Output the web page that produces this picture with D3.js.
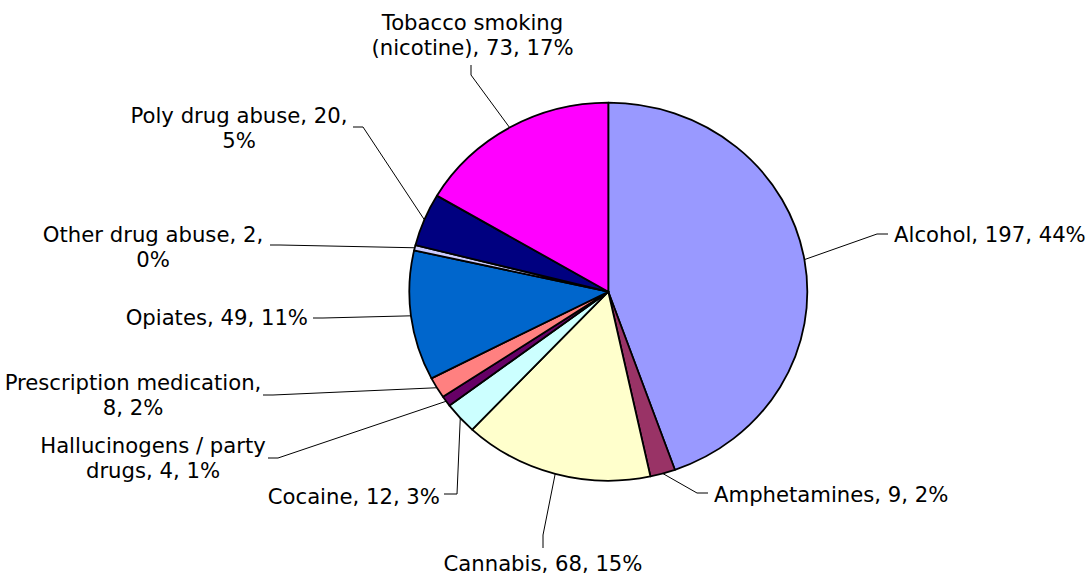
<!DOCTYPE html>
<html>
<head>
<meta charset="utf-8">
<script src="https://cdn.jsdelivr.net/npm/d3@7"></script>
<style>
  html, body { margin: 0; padding: 0; background: #fff; }
  svg { display: block; }
  text { font-family: "DejaVu Sans", Verdana, sans-serif; font-size: 21.2px; fill: #000; }
</style>
</head>
<body>
<svg id="chart" width="1090" height="575"></svg>
<script>
// ---- data ----
const categories = ["Alcohol", "Amphetamines", "Cannabis", "Cocaine", "Hallucinogens / party drugs",
  "Prescription medication", "Opiates", "Other drug abuse", "Poly drug abuse", "Tobacco smoking (nicotine)"];
const values = [197, 9, 68, 12, 4, 8, 49, 2, 20, 73];
const percentLabels = ["44%", "2%", "15%", "3%", "1%", "2%", "11%", "0%", "5%", "17%"];
const colors = ["#9999FF", "#993366", "#FFFFCC", "#CCFFFF", "#660066", "#FF8080", "#0066CC", "#CCCCFF", "#000080", "#FF00FF"];

// ---- layout (label placement) ----
// anchor: text anchor; x,y: text position (baseline of first line); words: words on line 1 (0 = single line)
// lead: leader start point and elbow point near the label
const labelLayout = [
  {anchor: "start",  x: 894,   y: 242, words: 0, lead: [[888, 234], [877, 234]]},
  {anchor: "start",  x: 714,   y: 502, words: 0, lead: [[708, 493], [697, 493]]},
  {anchor: "middle", x: 543,   y: 571, words: 0, lead: [[543, 548], [543, 535]]},
  {anchor: "end",    x: 440,   y: 504, words: 0, lead: [[444, 494], [457, 494]]},
  {anchor: "middle", x: 153,   y: 453, words: 3, lead: [[268, 458], [278, 458]]},
  {anchor: "middle", x: 133,   y: 390, words: 2, lead: [[263, 395], [273, 395]]},
  {anchor: "end",    x: 308,   y: 325, words: 0, lead: [[313, 318], [323, 318]]},
  {anchor: "middle", x: 153,   y: 242, words: 4, lead: [[270, 245], [280, 245]]},
  {anchor: "middle", x: 239,   y: 123, words: 4, lead: [[353, 127], [363, 127]]},
  {anchor: "middle", x: 472.5, y: 30,  words: 2, lead: [[471, 65], [471, 75]]}
];

const cx = 608.3, cy = 291.7, rx = 199, ry = 189;
const lineHeight = 25;

const svg = d3.select("#chart");

const data = categories.map((c, i) => ({cat: c, value: values[i], pct: percentLabels[i], color: colors[i], layout: labelLayout[i]}));

const pie = d3.pie().value(d => d.value).sort(null).startAngle(0).endAngle(2 * Math.PI);
const arcs = pie(data);
const arc = d3.arc().innerRadius(0).outerRadius(rx);

const g = svg.append("g").attr("transform", `translate(${cx},${cy}) scale(1,${ry / rx})`);
g.selectAll("path.slice").data(arcs).join("path")
  .attr("class", "slice")
  .attr("d", arc)
  .attr("fill", d => d.data.color)
  .attr("stroke", "#000")
  .attr("stroke-width", 1.8)
  .attr("stroke-linejoin", "round")
  .attr("vector-effect", "non-scaling-stroke");

// leader lines
const edgePoint = a => {
  const m = (a.startAngle + a.endAngle) / 2;
  return [cx + rx * Math.sin(m), cy - ry * Math.cos(m)];
};
const line = d3.line();
svg.append("g").selectAll("path.leader").data(arcs).join("path")
  .attr("class", "leader")
  .attr("d", d => line([...d.data.layout.lead, edgePoint(d)]))
  .attr("fill", "none")
  .attr("stroke", "#000")
  .attr("stroke-width", 1);

// labels
const labels = svg.append("g").selectAll("text").data(arcs).join("text")
  .attr("text-anchor", d => d.data.layout.anchor)
  .attr("x", d => d.data.layout.x)
  .attr("y", d => d.data.layout.y);

labels.each(function(d) {
  const full = `${d.data.cat}, ${d.data.value}, ${d.data.pct}`;
  const L = d.data.layout;
  const t = d3.select(this);
  if (!L.words) { t.text(full); return; }
  const w = full.split(" ");
  const lines = [w.slice(0, L.words).join(" "), w.slice(L.words).join(" ")];
  lines.forEach((s, k) => {
    t.append("tspan").attr("x", L.x).attr("dy", k === 0 ? 0 : lineHeight).text(s);
  });
});
</script>
</body>
</html>
